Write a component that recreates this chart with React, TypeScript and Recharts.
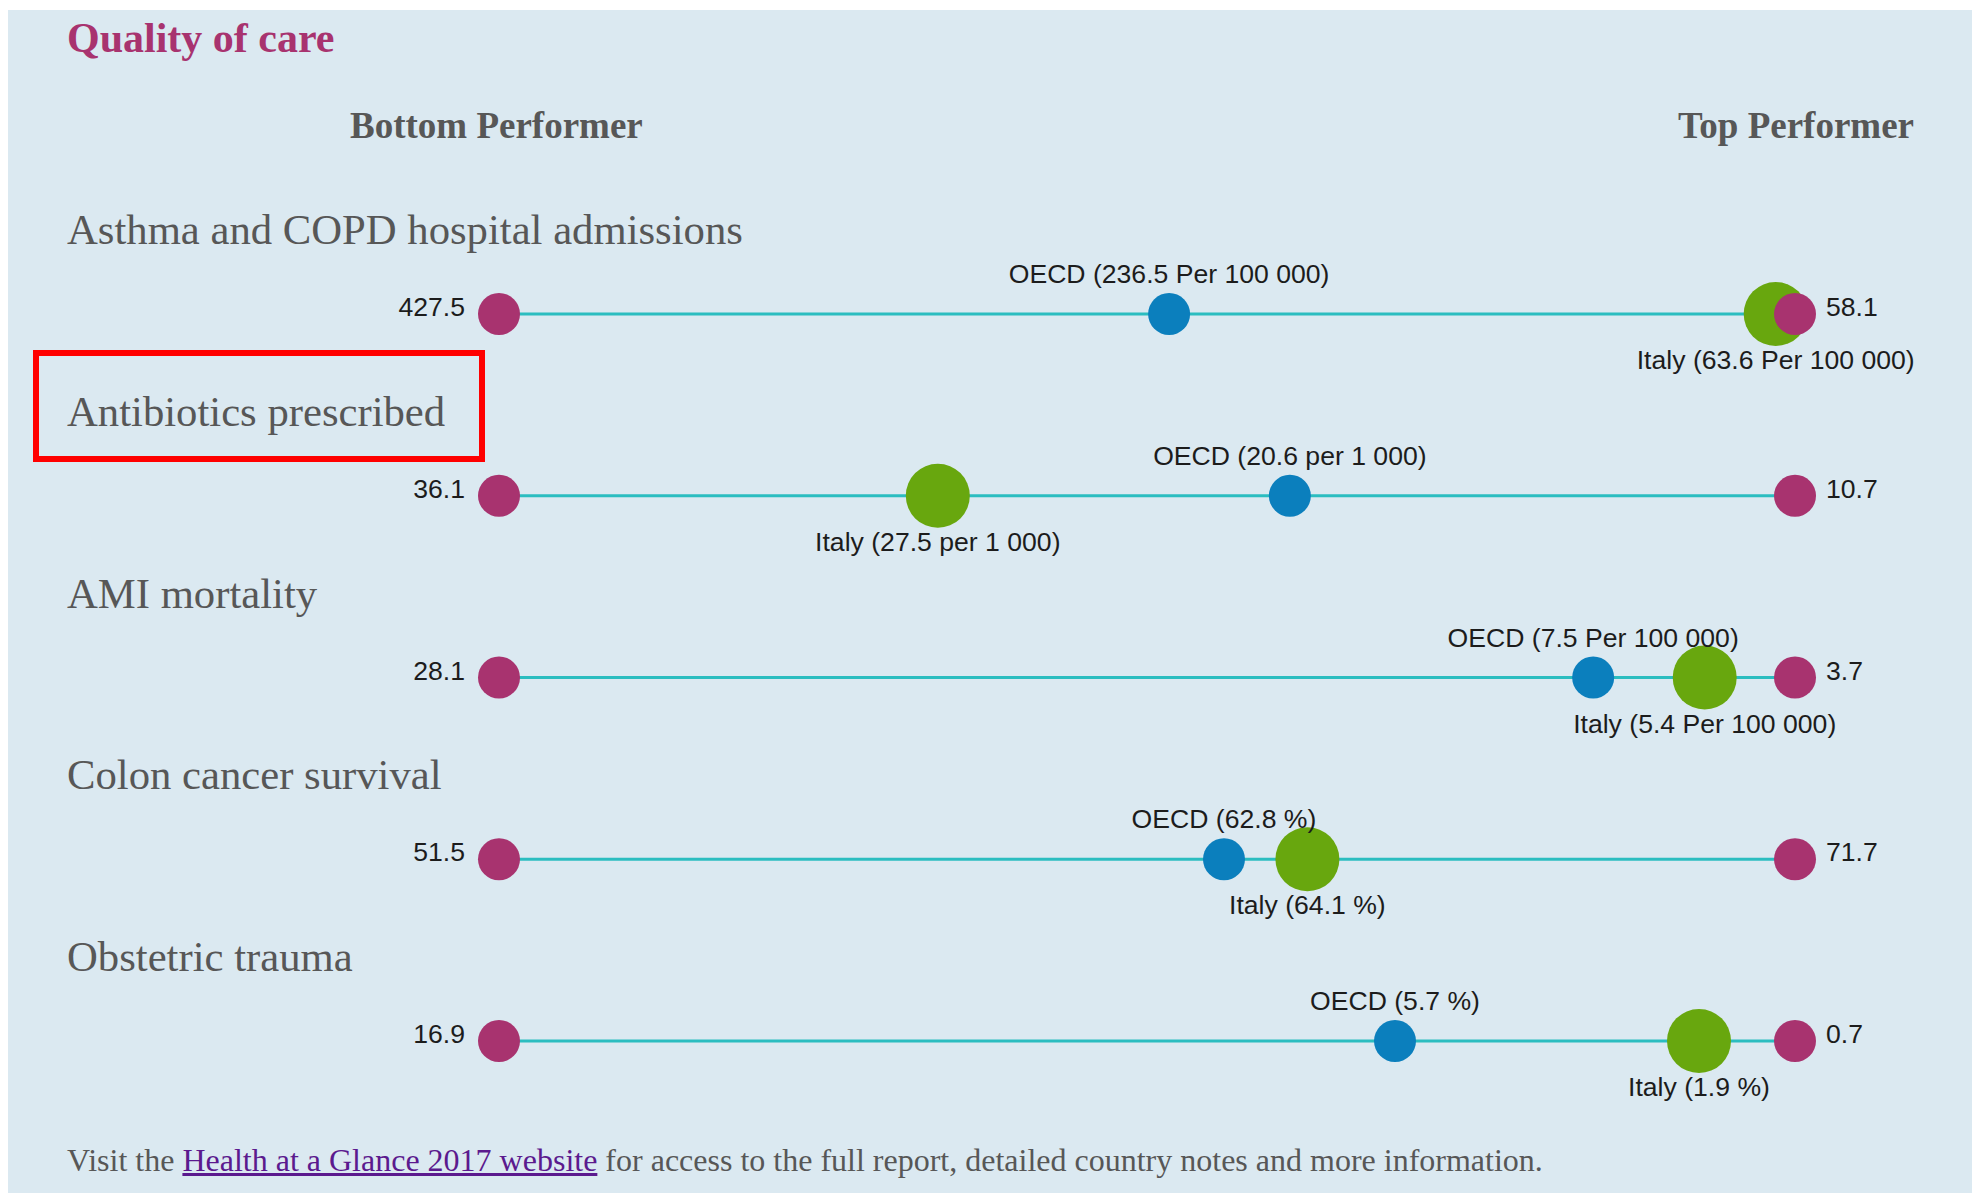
import * as React from 'react';
import {ReferenceLine, Scatter, ScatterChart, XAxis, YAxis} from 'recharts';

const indicators = [
	'Asthma and COPD hospital admissions',
	'Antibiotics prescribed',
	'AMI mortality',
	'Colon cancer survival',
	'Obstetric trauma',
];
const bottomPerformer = [427.5, 36.1, 28.1, 51.5, 16.9];
const topPerformer = [58.1, 10.7, 3.7, 71.7, 0.7];
const oecdValues = [236.5, 20.6, 7.5, 62.8, 5.7];
const italyValues = [63.6, 27.5, 5.4, 64.1, 1.9];
const units = ['Per 100 000', 'per 1 000', 'Per 100 000', '%', '%'];
const rowTicks = [0, 1, 2, 3, 4];

const MAGENTA = '#a8336f';
const BLUE = '#0b7fbd';
const GREEN = '#68a70e';
const TEAL = '#2bbdc0';
const GREY = '#575757';
const SERIF = '"Liberation Serif", "Times New Roman", serif';
const SANS = '"Liberation Sans", Arial, sans-serif';

// position of a value along its own row, 0 = bottom performer, 1 = top performer
function position(value: number, row: number) {
	return (value - bottomPerformer[row]) / (topPerformer[row] - bottomPerformer[row]);
}

const endpointData = indicators.flatMap((_, i) => [
	{x: position(bottomPerformer[i], i), y: i, kind: 'bottom', text: String(bottomPerformer[i])},
	{x: position(topPerformer[i], i), y: i, kind: 'top', text: String(topPerformer[i])},
]);
const oecdData = indicators.map((_, i) => ({
	x: position(oecdValues[i], i),
	y: i,
	kind: 'oecd',
	text: `OECD (${oecdValues[i]} ${units[i]})`,
}));
const italyData = indicators.map((_, i) => ({
	x: position(italyValues[i], i),
	y: i,
	kind: 'italy',
	text: `Italy (${italyValues[i]} ${units[i]})`,
}));
const labelData = [...endpointData, ...oecdData, ...italyData];

const dot = (fill: string, r: number) => (props: any) => (
	<circle cx={props.cx} cy={props.cy} r={r} fill={fill}/>
);

function ValueLabel(props: any) {
	const {cx, cy, payload} = props;
	const common = {fontFamily: SANS, fontSize: 26.6, fill: '#1c1c1c'};
	if (payload.kind === 'bottom') {
		return <text x={cx - 34} y={cy + 2} textAnchor="end" {...common}>{payload.text}</text>;
	}
	if (payload.kind === 'top') {
		return <text x={cx + 31} y={cy + 2} textAnchor="start" {...common}>{payload.text}</text>;
	}
	if (payload.kind === 'oecd') {
		return <text x={cx} y={cy - 31} textAnchor="middle" {...common}>{payload.text}</text>;
	}
	return <text x={cx} y={cy + 55} textAnchor="middle" {...common}>{payload.text}</text>;
}

function RowLabel(props: any) {
	const {y, payload} = props;
	return (
		<text x={59} y={y - 70} textAnchor="start" fontFamily={SERIF} fontSize={42.7} fill={GREY}>
			{indicators[payload.value]}
		</text>
	);
}

const textBlock = (top: number, left: number, size: number, extra: React.CSSProperties = {}) => ({
	position: 'absolute' as const,
	top,
	left,
	fontFamily: SERIF,
	fontSize: size,
	lineHeight: `${size}px`,
	whiteSpace: 'nowrap' as const,
	...extra,
});

export default
function App() {
	return (
		<div style={{position: 'fixed', top: 10, left: 8, width: 1964, height: 1183, background: '#dbe9f1', overflow: 'hidden'}}>
			<ScatterChart
				width={1964}
				height={1183}
				margin={{top: 304, right: 177, bottom: 152, left: 391}}
			>
				<XAxis type="number" dataKey="x" domain={[0, 1]} hide/>
				<YAxis
					type="number"
					dataKey="y"
					domain={[0, 4]}
					reversed
					ticks={rowTicks}
					interval={0}
					width={100}
					axisLine={false}
					tickLine={false}
					tick={<RowLabel/>}
				/>
				{indicators.map((name, i) => (
					<ReferenceLine
						key={name}
						segment={[{x: 0, y: i}, {x: 1, y: i}]}
						stroke={TEAL}
						strokeWidth={3}
					/>
				))}
				<Scatter name="OECD" data={oecdData} shape={dot(BLUE, 21)} isAnimationActive={false}/>
				<Scatter name="Italy" data={italyData} shape={dot(GREEN, 32)} isAnimationActive={false}/>
				<Scatter name="Performers" data={endpointData} shape={dot(MAGENTA, 21)} isAnimationActive={false}/>
				<Scatter name="Labels" data={labelData} shape={<ValueLabel/>} isAnimationActive={false}/>
			</ScatterChart>
			<div style={textBlock(7, 59, 42, {fontWeight: 'bold', color: MAGENTA})}>Quality of care</div>
			<div style={textBlock(97, 342, 37, {fontWeight: 'bold', color: GREY})}>Bottom Performer</div>
			<div style={textBlock(97, 0, 37, {fontWeight: 'bold', color: GREY, left: undefined, right: 58})}>Top Performer</div>
			<div
				style={{
					position: 'absolute',
					left: 25,
					top: 340,
					width: 452,
					height: 112,
					border: '6px solid #ff0000',
					boxSizing: 'border-box',
				}}
			/>
			<div style={textBlock(1134, 59, 32, {color: GREY})}>
				Visit the <a href="#" style={{color: '#5b1a8e'}}>Health at a Glance 2017 website</a> for access to the full report, detailed country notes and more information.
			</div>
		</div>
	);
}
